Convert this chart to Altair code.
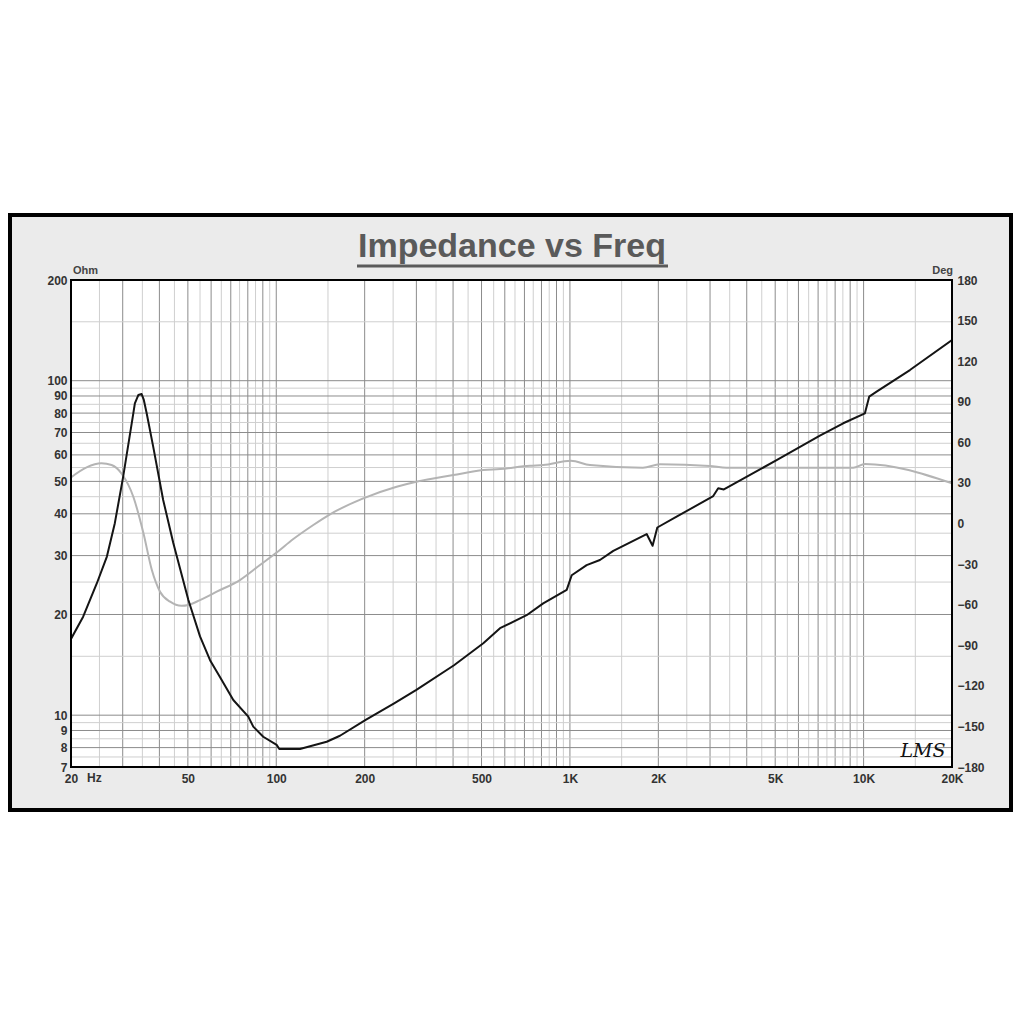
import altair as alt
import pandas as pd

# ---------------- data ----------------
# impedance curve (black, left axis, Ohm)
freq_z = [20, 22.0, 24.5, 26.5, 28.2, 30.1, 32.6, 33.0, 33.9, 34.8, 35.4, 36.2,
          38.1, 41.2, 44.6, 50.2, 55.0, 59.5, 64.3, 71.4, 80.3, 83.5,
          90.3, 100.3, 102.4, 120.4, 148.5, 164.8, 201.6, 252, 300, 403,
          507, 578, 712, 811, 975, 1014, 1140, 1265, 1405, 1825,
          1912, 1984, 2308, 3076, 3198, 3344, 4048, 5056, 7098, 8522,
          10104, 10448, 11074, 14380, 20000]
ohm = [16.9, 19.7, 24.8, 29.8, 37.5, 51.6, 79.9, 85.6, 90.6, 91.2, 87.6, 79.9,
       63.5, 44.0, 32.7, 22.1, 17.2, 14.6, 13.0, 11.1, 9.9, 9.24,
       8.62, 8.15, 7.92, 7.92, 8.33, 8.68, 9.68, 10.85, 11.9, 14.1,
       16.4, 18.2, 19.9, 21.6, 23.7, 26.2, 28.1, 29.1, 31.0, 34.8,
       32.1, 36.4, 39.2, 45.2, 47.7, 47.3, 51.9, 57.9, 68.5, 74.6,
       79.9, 89.6, 92.7, 107.6, 132.3]

# phase curve (gray, right axis, Deg)
freq_p = [20, 22.6, 25.4, 27.5, 29.8, 32.6, 35.3, 37.7, 40.2, 43.5,
          47.6, 50.2, 55.0, 62.7, 75.2, 88.0, 100.3, 114.3, 133.7, 152.4,
          197.8, 257, 300, 400.6, 507, 578, 731, 811, 1008,
          1170, 1772, 2025, 2997, 3417, 9217, 10104, 20000]
deg = [34.1, 41.5, 44.5, 43.2, 36.6, 19.8, -7.2, -34.4, -50.4, -57.8,
       -60.8, -60.2, -56.6, -50.4, -41.8, -30.7, -21.5, -11.5, -1.1, 6.8,
       18.6, 27.2, 30.9, 35.8, 39.5, 40.3, 42.7, 43.2, 46.4,
       43.2, 41.2, 43.8, 42.5, 41.2, 41.2, 44.0, 29.7]

# grid lines and tick labels
vgrid_major = [30, 40, 50, 60, 70, 80, 90, 100, 200, 300, 400, 500, 600, 700, 800, 900,
               1000, 2000, 3000, 4000, 5000, 6000, 7000, 8000, 9000, 10000]
vgrid_minor = [25, 35, 45, 55, 65, 75, 85, 95, 150, 250, 350, 450, 550, 650, 750, 850, 950,
               1500, 2500, 3500, 4500, 5500, 6500, 7500, 8500, 9500, 15000]
hgrid_major = [8, 9, 10, 20, 30, 40, 50, 60, 70, 80, 90, 100]
hgrid_minor = [7.5, 8.5, 9.5, 15, 25, 35, 45, 55, 65, 75, 85, 95, 150]
x_ticks = [20, 50, 100, 200, 500, 1000, 2000, 5000, 10000, 20000]
ohm_ticks = [7, 8, 9, 10, 20, 30, 40, 50, 60, 70, 80, 90, 100, 200]
deg_ticks = [-180, -150, -120, -90, -60, -30, 0, 30, 60, 90, 120, 150, 180]

title_text = "Impedance vs Freq"

# ---------------- chart ----------------
W, H = 881, 487
FONT = "Liberation Sans"
LABEL_COLOR = "#333333"

xscale = alt.Scale(type="log", domain=[20, 20000], nice=False)
zscale = alt.Scale(type="log", domain=[7, 200], nice=False)
pscale = alt.Scale(type="linear", domain=[-180, 180], nice=False, zero=False)

one = pd.DataFrame({"k": [0]})
df_z = pd.DataFrame({"f": freq_z, "v": ohm})
df_p = pd.DataFrame({"f": freq_p, "v": deg})

axis_common = dict(ticks=False, domain=False, grid=False, title=None,
                   labelFont=FONT, labelFontWeight="bold", labelFontSize=12,
                   labelColor=LABEL_COLOR, labelFlush=False, labelOverlap=False,
                   labelBound=False, zindex=1)

x_axis = alt.Axis(
    orient="bottom", values=x_ticks, labelPadding=6,
    labelExpr="datum.value == 20 ? '\u200720' : (datum.value >= 1000 ? (datum.value/1000) + 'K' : datum.value + '')",
    labelAlign="center", labelBaseline="top",
    **axis_common)

frame = alt.Chart(one).mark_rect(fill="#ebebeb", stroke="#000000", strokeWidth=4).encode(
    x=alt.value(-61), x2=alt.value(940), y=alt.value(-65), y2=alt.value(530))

plot_bg = alt.Chart(one).mark_rect(fill="#ffffff").encode(
    x=alt.value(0), x2=alt.value(W), y=alt.value(0), y2=alt.value(H))

vminor = alt.Chart(pd.DataFrame({"f": vgrid_minor})).mark_rule(color="#cfcfcf", strokeWidth=1).encode(
    x=alt.X("f:Q", scale=xscale, axis=x_axis))
vmajor = alt.Chart(pd.DataFrame({"f": vgrid_major})).mark_rule(color="#8c8c8c", strokeWidth=1).encode(
    x=alt.X("f:Q", scale=xscale, axis=x_axis))
hminor = alt.Chart(pd.DataFrame({"v": hgrid_minor})).mark_rule(color="#cfcfcf", strokeWidth=1).encode(
    y=alt.Y("v:Q", scale=zscale, axis=None))
hmajor = alt.Chart(pd.DataFrame({"v": hgrid_major})).mark_rule(color="#8c8c8c", strokeWidth=1).encode(
    y=alt.Y("v:Q", scale=zscale, axis=None))

phase_line = alt.Chart(df_p).mark_line(color="#b4b4b4", strokeWidth=2, interpolate="monotone", clip=True).encode(
    x=alt.X("f:Q", scale=xscale, axis=x_axis),
    y=alt.Y("v:Q", scale=pscale,
            axis=alt.Axis(orient="right", values=deg_ticks, labelPadding=5,
                          labelAlign="left", labelBaseline="middle", **axis_common)))

imp_line = alt.Chart(df_z).mark_line(color="#141414", strokeWidth=2, strokeJoin="round", clip=True).encode(
    x=alt.X("f:Q", scale=xscale, axis=x_axis),
    y=alt.Y("v:Q", scale=zscale,
            axis=alt.Axis(orient="left", values=ohm_ticks, labelPadding=4,
                          labelAlign="right", labelBaseline="middle", **axis_common)))

border = alt.Chart(one).mark_rect(fillOpacity=0, stroke="#000000", strokeWidth=2).encode(
    x=alt.value(0), x2=alt.value(W), y=alt.value(0), y2=alt.value(H))

title = alt.Chart(one).mark_text(text=title_text, font=FONT, fontWeight="bold", fontSize=34,
                                 color="#5a5a5a", align="center", baseline="alphabetic").encode(
    x=alt.value(441), y=alt.value(-23))
underline = alt.Chart(one).mark_rule(color="#5a5a5a", strokeWidth=3).encode(
    x=alt.value(286), x2=alt.value(597), y=alt.value(-14))

ohm_lbl = alt.Chart(one).mark_text(text="Ohm", font=FONT, fontWeight="bold", fontSize=11,
                                   color="#444444", align="left", baseline="alphabetic").encode(
    x=alt.value(2), y=alt.value(-6))
deg_lbl = alt.Chart(one).mark_text(text="Deg", font=FONT, fontWeight="bold", fontSize=11,
                                   color="#444444", align="right", baseline="alphabetic").encode(
    x=alt.value(882), y=alt.value(-6))
hz_lbl = alt.Chart(one).mark_text(text="Hz", font=FONT, fontWeight="bold", fontSize=12,
                                  color=LABEL_COLOR, align="left", baseline="top").encode(
    x=alt.value(16), y=alt.value(H + 6))
lms = alt.Chart(one).mark_text(text="LMS", font="DejaVu Serif", fontStyle="italic", fontSize=19,
                               color="#111111", align="center", baseline="alphabetic").encode(
    x=alt.value(852), y=alt.value(477))

chart = alt.layer(
    frame, plot_bg, vminor, vmajor, hminor, hmajor, phase_line, imp_line, border,
    title, underline, ohm_lbl, deg_lbl, hz_lbl, lms
).resolve_scale(y="independent").properties(
    width=W, height=H,
    padding={"left": 63, "top": 272, "right": 62, "bottom": 233},
    autosize=alt.AutoSizeParams(type="none"),
    background="#ffffff"
).configure_view(stroke=None)

chart.save("out.html", embed_options={"renderer": "svg", "actions": False})
